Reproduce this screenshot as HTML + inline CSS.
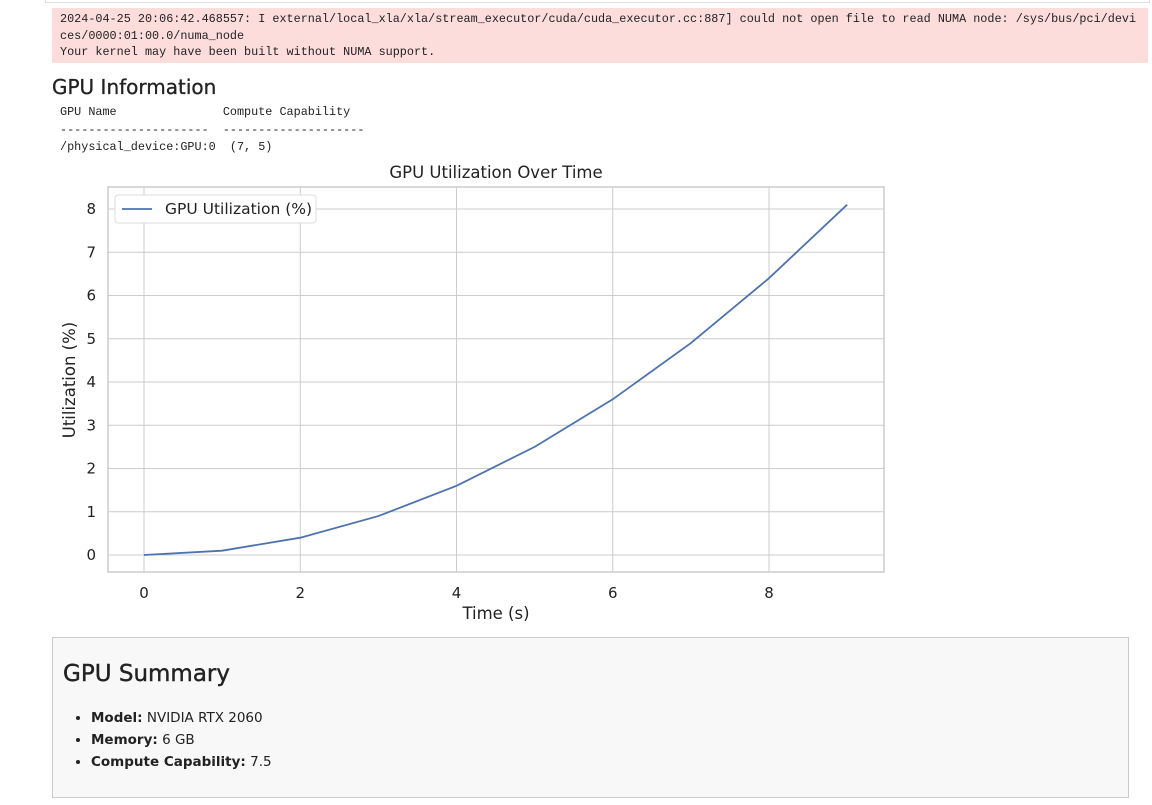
<!DOCTYPE html>
<html><head><meta charset="utf-8"><style>
body{margin:0;width:1152px;height:805px;background:#fff;position:relative;overflow:hidden;font-family:"Liberation Sans",sans-serif;color:#222}
.abs{position:absolute}
.mono{font-family:"Liberation Mono","DejaVu Sans Mono",monospace;font-size:11.8px}
</style></head><body>
<div class="abs" style="left:45px;top:-2px;width:1103px;height:4px;border:1px solid #ddd;border-top:none"></div>
<div class="abs mono" style="left:52px;top:8px;width:1096px;height:55px;background:#fddcdc;color:#222;padding:3px 8px;box-sizing:border-box;line-height:16.5px;white-space:pre">2024-04-25 20:06:42.468557: I external/local_xla/xla/stream_executor/cuda/cuda_executor.cc:887] could not open file to read NUMA node: /sys/bus/pci/devi
ces/0000:01:00.0/numa_node
Your kernel may have been built without NUMA support.</div>
<div class="abs" style="left:52px;top:75px;font-size:20px;font-weight:500;font-family:'DejaVu Sans',sans-serif;color:#222;-webkit-text-stroke:0.3px #222">GPU Information</div>
<div class="abs mono" style="left:60px;top:104px;line-height:17.5px;white-space:pre">GPU Name               Compute Capability
---------------------  --------------------
/physical_device:GPU:0  (7, 5)</div>
<svg class="abs" style="left:0;top:0" width="1152" height="805">
<g id="chart" font-family="DejaVu Sans, sans-serif"></g>
</svg>
<div class="abs" style="left:52px;top:637px;width:1077px;height:161px;background:#f8f8f8;border:1px solid #ccc;box-sizing:border-box">
<div style="position:absolute;left:10px;top:23px;font-size:23px;font-family:'DejaVu Sans',sans-serif;color:#222;-webkit-text-stroke:0.4px #222">GPU Summary</div>
<ul style="position:absolute;left:0;top:69px;margin:0;padding-left:38px;font-size:13.5px;font-family:'DejaVu Sans',sans-serif;line-height:22px;color:#222">
<li><b>Model:</b> NVIDIA RTX 2060</li>
<li><b>Memory:</b> 6 GB</li>
<li><b>Compute Capability:</b> 7.5</li>
</ul></div>
<script>
const timeValues=[0,1,2,3,4,5,6,7,8,9];
const utilValues=[0,0.1,0.4,0.9,1.6,2.5,3.6,4.9,6.4,8.1];
const xTicks=[0,2,4,6,8];
const yTicks=[0,1,2,3,4,5,6,7,8];
const NS="http://www.w3.org/2000/svg";
const g=document.getElementById('chart');
const L=108,R=884,T=187,B=572;
const sx=v=>144+v*(769-144)/8;
const sy=v=>555-v*(555-209)/8;
function mk(t,a,txt){const e=document.createElementNS(NS,t);for(const k in a)e.setAttribute(k,a[k]);if(txt!==undefined)e.textContent=txt;g.appendChild(e);return e;}
let r=mk('rect',{x:L,y:T,width:R-L,height:B-T,fill:'#fff',stroke:'#ccc','stroke-width':1.5});


xTicks.forEach(v=>{let l=mk('line',{x1:sx(v),x2:sx(v),y1:T,y2:B,stroke:'#ccc'});


let t=mk('text',{x:sx(v),y:598,'font-size':15,'text-anchor':'middle',fill:'#222'},v);

});
yTicks.forEach(v=>{let l=mk('line',{x1:L,x2:R,y1:sy(v),y2:sy(v),stroke:'#ccc'});


let t=mk('text',{x:96,y:sy(v)+5,'font-size':15,'text-anchor':'end',fill:'#222'},v);

});
let p=mk('polyline',{points:timeValues.map((x,i)=>sx(x)+','+sy(utilValues[i])).join(' '),fill:'none',stroke:'#4c72b0','stroke-width':1.8});


let tt=mk('text',{x:496,y:178,'font-size':16.5,'text-anchor':'middle',fill:'#222'},'GPU Utilization Over Time');


let xt=mk('text',{x:496,y:619,'font-size':16.5,'text-anchor':'middle',fill:'#222'},'Time (s)');


let yt=mk('text',{x:75,y:380,'font-size':16.5,'text-anchor':'middle',fill:'#222',transform:'rotate(-90 75 380)'},'Utilization (%)');


let lb=mk('rect',{x:115,y:195,width:201,height:28,rx:3,fill:'#fff',stroke:'#ddd'});


let ll=mk('line',{x1:122,x2:152,y1:209,y2:209,stroke:'#4c72b0','stroke-width':1.8});


let lt=mk('text',{x:165,y:214,'font-size':15.5,fill:'#222'},'GPU Utilization (%)');


</script>
</body></html>
